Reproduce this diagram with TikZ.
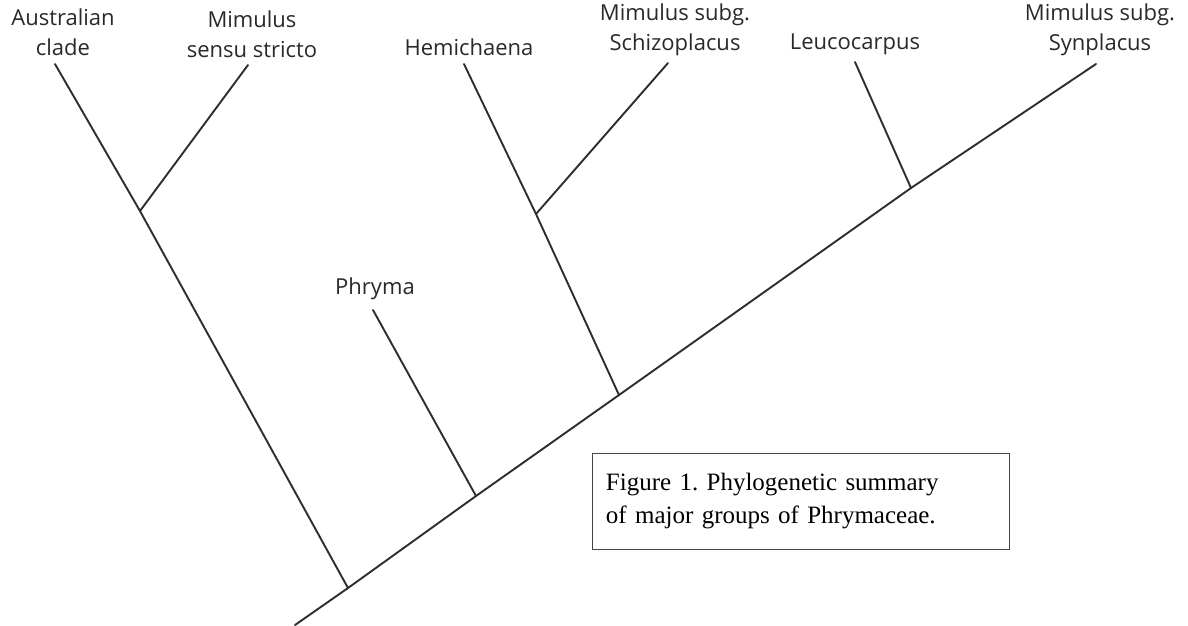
\documentclass[tikz,border=0pt]{standalone}
\usepackage{fontspec}
\setmainfont{Liberation Serif}
\newfontfamily\taxonfont{Open Sans}
\usetikzlibrary{positioning}
\definecolor{ink}{RGB}{45,45,45}
\definecolor{framegray}{RGB}{70,70,70}
\tikzset{
  taxon/.style={font=\taxonfont\fontsize{22}{30}\selectfont,text=ink!90!black,align=center,inner sep=0pt},
  branch/.style={draw=ink,line width=1.9pt,line cap=round},
  caption/.style={draw=framegray,line width=0.9pt,align=left,inner sep=0pt,
    font=\fontsize{25}{33}\selectfont\frenchspacing,text width=390pt,minimum width=417pt,minimum height=96pt},
}
\begin{document}
\begin{tikzpicture}[x=1pt,y=-1pt]
  \useasboundingbox (0,0) rectangle (1188,625);
  % taxon labels
  \foreach \n/\x/\y/\t in {
    aus/63/32/{Australian\\clade},
    mss/252/34/{Mimulus\\sensu stricto},
    hem/469/47/{Hemichaena},
    sch/675/30/{Mimulus subg.\\Schizoplacus},
    leu/855/44/{Leucocarpus},
    syn/1100/30/{Mimulus subg.\\Synplacus},
    phr/375/289/{Phryma}}
  {
    \node[taxon] (\n) at (\x,\y) {\t};
  }
  % tips and junctions
  \coordinate (aus tip) at (55,64);
  \coordinate (mss tip) at (248,65);
  \coordinate (hem tip) at (464,64);
  \coordinate (sch tip) at (668,63);
  \coordinate (leu tip) at (855,62);
  \coordinate (syn tip) at (1096,64);
  \coordinate (phr tip) at (373,310);
  \coordinate (root) at (295,625);
  \coordinate (j1) at (348,588);
  \coordinate (j2) at (476,496);
  \coordinate (j3) at (619,395);
  \coordinate (j4) at (911,188);
  \coordinate (j1a) at (140,211);
  \coordinate (j3a) at (536,214);
  % backbone
  \draw[branch] (root) -- (j1) -- (j2) -- (j3) -- (j4) -- (syn tip);
  % side branches
  \draw[branch] (j1) -- (j1a) -- (aus tip);
  \draw[branch] (j1a) -- (mss tip);
  \draw[branch] (j2) -- (phr tip);
  \draw[branch] (j3) -- (j3a) -- (hem tip);
  \draw[branch] (j3a) -- (sch tip);
  \draw[branch] (j4) -- (leu tip);
  % caption
  \node[caption,anchor=north west] (cap) at (592,453)
    {Figure 1. Phylogenetic summary\\of major groups of Phrymaceae.};
\end{tikzpicture}
\end{document}
